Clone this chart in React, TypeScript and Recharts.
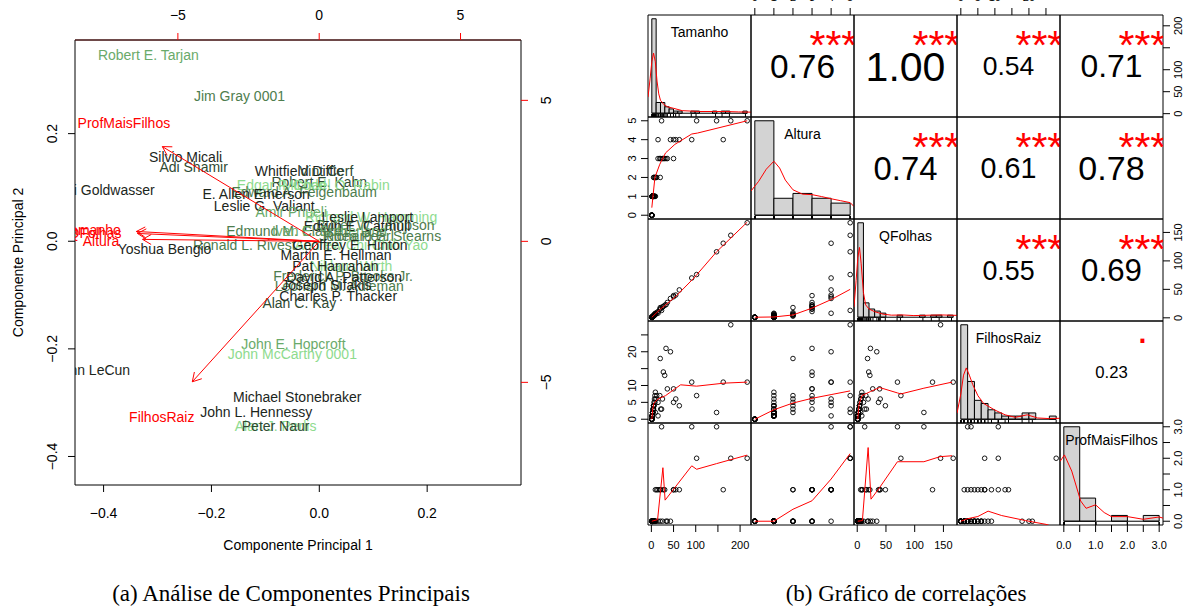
import React from "react";
import {
  ComposedChart, Scatter, XAxis, YAxis, ReferenceArea, ReferenceLine,
} from "recharts";

const FONT = '"Liberation Sans", Arial, Helvetica, sans-serif';
const RED = "#ff0000";

// ---------------- (a) PCA biplot ----------------
const pcNames = [
  "Robert E. Tarjan", "Jim Gray 0001", "Silvio Micali", "Adi Shamir", "Shafi Goldwasser",
  "Whitfield Diffie", "Vint Cerf", "Robert E. Kahn", "Edgar F. Codd", "Michael O. Rabin",
  "Edward A. Feigenbaum", "E. Allen Emerson", "Leslie G. Valiant", "Amir Pnueli", "Richard W. Hamming",
  "Leslie Lamport", "Butler W. Lampson", "Edwin E. Catmull", "Edmund M. Clarke", "Ivan E. Sutherland",
  "Judea Pearl", "Richard E. Stearns", "Ronald L. Rivest", "Andrew Chi-Chih Yao", "Geoffrey E. Hinton",
  "Yoshua Bengio", "Martin E. Hellman", "Niklaus Wirth", "Pat Hanrahan", "Frederick P. Brooks Jr.",
  "David A. Patterson", "Leonard M. Adleman", "Joseph Sifakis", "Charles P. Thacker", "Alan C. Kay",
  "John E. Hopcroft", "John McCarthy 0001", "Yann LeCun", "Michael Stonebraker", "John L. Hennessy",
  "Alan J. Perlis", "Peter Naur",
];
const pc1 = [
  -0.317, -0.148, -0.248, -0.233, -0.407,
  -0.037, 0.013, 0.0, -0.07, 0.031,
  -0.028, -0.117, -0.102, -0.052, 0.096,
  0.089, 0.104, 0.07, -0.065, 0.019,
  0.069, 0.117, -0.139, 0.078, 0.057,
  -0.287, 0.031, 0.059, 0.03, 0.044,
  0.046, 0.037, 0.013, 0.035, -0.037,
  -0.048, -0.05, -0.422, -0.041, -0.117,
  -0.081, -0.081,
];
const pc2 = [
  0.346, 0.27, 0.156, 0.138, 0.095,
  0.13, 0.13, 0.11, 0.104, 0.104,
  0.091, 0.087, 0.065, 0.054, 0.046,
  0.046, 0.03, 0.028, 0.019, 0.019,
  0.009, 0.009, -0.007, -0.006, -0.007,
  -0.015, -0.026, -0.046, -0.046, -0.065,
  -0.067, -0.084, -0.082, -0.102, -0.115,
  -0.19, -0.21, -0.24, -0.29, -0.318,
  -0.344, -0.344,
];
const pcShade = [
  3, 2, 0, 1, 0, 0, 1, 1, 4, 4,
  2, 0, 0, 3, 4, 0, 2, 0, 2, 3,
  2, 2, 2, 4, 0, 0, 0, 4, 0, 2,
  0, 2, 0, 0, 1, 3, 4, 0, 0, 0,
  4, 1,
];
const GREENS = ["#1c261c", "#2f4a33", "#4e7d4e", "#6aaa6a", "#8edb8e"];

const loadNames = ["Tamanho", "QFolhas", "Altura", "ProfMaisFilhos", "FilhosRaiz"];
const loadX = [-6.47, -6.43, -6.25, -5.55, -4.49];
const loadY = [0.35, 0.28, 0.07, 3.36, -4.98];
const loadLabelX = [-8.04, -7.93, -7.72, -6.91, -5.57];
const loadLabelY = [0.39, 0.28, 0.0, 4.2, -6.22];

const pcTicks = [-0.4, -0.2, 0, 0.2];
const loadTicks = [-5, 0, 5];
const PC_DOMAIN: [number, number] = [-0.453, 0.374];
const LOAD_DOMAIN: [number, number] = [-8.64, 7.14];

// ---------------- (b) correlation pairs ----------------
const tamanho = [
  1, 1, 1, 1, 1, 1, 1, 1, 1,
  2, 2, 2, 2, 2, 2, 2, 2, 2, 2, 2, 2,
  3, 3, 3, 3, 3, 3, 3, 3,
  4, 4, 4, 5, 5, 5, 6, 7, 8, 9,
  5, 6, 8, 9, 10, 12, 20,
  15, 19, 21, 25, 27, 30, 33, 36, 50,
  15, 43, 50, 55, 63, 91, 162,
  23, 102, 147, 179, 216,
];
const altura = [
  0, 0, 0, 0, 0, 0, 0, 0, 0,
  1, 1, 1, 1, 1, 1, 1, 1, 1, 1, 1, 1,
  1, 1, 1, 1, 1, 1, 1, 1,
  1, 1, 1, 1, 1, 1, 1, 1, 1, 1,
  2, 2, 2, 2, 2, 2, 2,
  3, 3, 3, 3, 3, 3, 3, 3, 3,
  4, 4, 4, 4, 4, 4, 4,
  5, 5, 5, 5, 5,
];
const qfolhas = [
  1, 1, 1, 1, 1, 1, 1, 1, 1,
  1, 1, 1, 1, 1, 1, 1, 1, 1, 1, 1, 1,
  2, 2, 2, 2, 2, 2, 2, 2,
  3, 3, 3, 4, 4, 4, 5, 6, 7, 8,
  3, 4, 5, 6, 7, 9, 18,
  11, 15, 16, 19, 20, 22, 23, 27, 39,
  8, 34, 37, 40, 49, 70, 131,
  13, 76, 116, 145, 167,
];
const filhosRaiz = [
  0, 0, 0, 0, 0, 0, 0, 0, 0,
  1, 1, 1, 1, 1, 1, 1, 1, 1, 1, 1, 1,
  2, 2, 2, 2, 2, 2, 2, 2,
  3, 3, 3, 4, 4, 4, 5, 6, 7, 8,
  3, 4, 5, 2, 6, 7, 18,
  5, 7, 3, 6, 14, 13, 21, 9, 9,
  1, 20, 5, 6, 4, 11, 11,
  3, 7, 2, 28, 11,
];
const profMaisFilhos = [
  0, 0, 0, 0, 0, 0, 0, 0, 0,
  0, 0, 0, 0, 0, 0, 0, 0, 0, 0, 0, 0,
  0, 0, 0, 0, 0, 0, 0, 0,
  0, 0, 0, 0, 0, 0, 0, 0, 0, 0,
  0, 0, 0, 1, 0, 1, 0,
  0, 1, 1, 0, 1, 1, 0, 0, 1,
  1, 0, 1, 1, 1, 3, 1,
  3, 2, 3, 2, 2,
];

const pairNames = ["Tamanho", "Altura", "QFolhas", "FilhosRaiz", "ProfMaisFilhos"];
const pairValues = [tamanho, altura, qfolhas, filhosRaiz, profMaisFilhos];
const pairDomains: [number, number][] = [[-7.6, 224.6], [-0.2, 5.2], [-5.6, 173.6], [-1.12, 29.12], [-0.12, 3.12]];

const tamanhoTicks = [0, 50, 100, 150, 200];
const alturaTicks = [0, 1, 2, 3, 4, 5];
const qfolhasTicks = [0, 50, 100, 150];
const filhosTicks = [0, 5, 10, 15, 20, 25];
const profTicks = [0, 0.5, 1, 1.5, 2, 2.5, 3];
const pairTicks = [tamanhoTicks, alturaTicks, qfolhasTicks, filhosTicks, profTicks];
const pairFmt = [
  (v: number) => (v === 150 ? "" : String(v)),
  (v: number) => String(v),
  (v: number) => String(v),
  (v: number) => (v === 15 || v === 25 ? "" : String(v)),
  (v: number) => (Number.isInteger(v) ? v.toFixed(1) : ""),
];

// histograms (counts per bin)
const tamanhoBreaks = [0, 10, 20, 30, 40, 50, 60, 70, 80, 90, 100, 110, 120, 130, 140, 150, 160, 170, 180, 190, 200, 210, 220];
const tamanhoCounts = [44, 5, 5, 3, 2, 1, 1, 0, 0, 1, 1, 0, 0, 0, 1, 0, 1, 1, 0, 0, 0, 1];
const alturaBreaks = [0, 1, 2, 3, 4, 5];
const alturaCounts = [39, 7, 9, 7, 5];
const qfolhasBreaks = [0, 10, 20, 30, 40, 50, 60, 70, 80, 90, 100, 110, 120, 130, 140, 150, 160, 170];
const qfolhasCounts = [46, 7, 4, 3, 2, 0, 0, 1, 0, 0, 0, 1, 0, 1, 1, 0, 1];
const filhosBreaks = [0, 2, 4, 6, 8, 10, 12, 14, 16, 18, 20, 22, 24, 26, 28];
const filhosCounts = [30, 12, 6, 5, 3, 2, 1, 1, 1, 2, 2, 0, 0, 1];
const profBreaks = [0, 0.5, 1, 1.5, 2, 2.5, 3];
const profCounts = [49, 12, 0, 3, 0, 3];
const histBreaks = [tamanhoBreaks, alturaBreaks, qfolhasBreaks, filhosBreaks, profBreaks];
const histCounts = [tamanhoCounts, alturaCounts, qfolhasCounts, filhosCounts, profCounts];

// density curves (in count units)
const tamanhoDensX = [-8.8, -4, 0, 4, 8, 12, 16, 20, 28, 36, 50, 70, 90, 110, 140, 170, 200, 228.8];
const tamanhoDensY = [7.5, 16, 24, 28, 24, 15, 9, 6, 4, 3, 2.3, 1.2, 1, 0.8, 0.8, 0.8, 0.6, 0.5];
const alturaDensX = [-0.2, 0.2, 0.6, 1.0, 1.3, 1.6, 2.0, 2.5, 3.0, 3.5, 4.0, 4.5, 5.0, 5.2];
const alturaDensY = [10, 14, 19, 22.3, 19.5, 14.5, 10.5, 8.7, 8.5, 7.7, 6.8, 6, 5.2, 3.6];
const qfolhasDensX = [-6.8, -3, 0, 3, 6, 10, 14, 20, 30, 45, 60, 80, 100, 130, 150, 176.8];
const qfolhasDensY = [5, 18, 29, 34, 26, 12, 6, 4, 2.7, 1.5, 1, 1.1, 0.8, 1, 1.1, 0.9];
const filhosDensX = [-1.12, 0, 0.8, 1.6, 2.5, 3.5, 5, 6.7, 10, 13, 16, 19.5, 22.5, 26, 29.12];
const filhosDensY = [1.9, 8, 14, 16.3, 14, 11, 7.5, 5, 2.9, 1.4, 0.6, 1.4, 0.4, 0.2, 0.3];
const profDensX = [-0.12, 0.02, 0.25, 0.53, 0.7, 1.0, 1.27, 1.5, 2.0, 2.5, 3.0, 3.12];
const profDensY = [31, 34.4, 26, 10.5, 6.7, 8.5, 4.5, 2.4, 2.4, 1, 2.2, 1.6];
const densX = [tamanhoDensX, alturaDensX, qfolhasDensX, filhosDensX, profDensX];
const densY = [tamanhoDensY, alturaDensY, qfolhasDensY, filhosDensY, profDensY];

// smoothers in the lower panels
const smAltTamX = [1, 8, 19, 32, 53, 91, 104, 216];
const smAltTamY = [0.4, 2.0, 2.7, 3.3, 3.75, 4.3, 4.35, 5.0];
const smQfTamX = [1, 20, 53, 96, 147, 216];
const smQfTamY = [1, 15, 36, 70, 116, 168];
const smQfAltX = [0, 1, 2, 3, 4, 5];
const smQfAltY = [1, 1.5, 5, 17, 32, 50];
const smFrTamX = [1, 3, 6, 15, 32, 53, 66, 102, 164, 216];
const smFrTamY = [0, 3, 4.8, 6, 7, 9, 10.2, 9.8, 10.7, 11];
const smFrAltX = [0, 1, 2, 3, 4, 5];
const smFrAltY = [0, 2.8, 4.8, 6.2, 7.3, 8.4];
const smFrQfX = [1, 3, 8, 23, 39, 70, 76, 116, 165];
const smFrQfY = [0, 4.3, 7, 8.2, 9.4, 7.8, 7.5, 9.2, 11];
const smPrTamX = [1, 14, 26, 31, 91, 102, 147, 216];
const smPrTamY = [0, 0.05, 1.7, 0.67, 1.76, 1.65, 1.83, 2.1];
const smPrAltX = [0, 1, 2, 3, 4, 5];
const smPrAltY = [0, 0, 0.38, 0.65, 1.34, 2.15];
const smPrQfX = [1, 9, 19, 24, 39, 70, 116, 144, 165];
const smPrQfY = [0, 0.02, 2.34, 0.7, 1.07, 1.89, 1.89, 2.05, 2.08];
const smPrFrX = [0, 2, 5, 8, 12, 19, 25, 28];
const smPrFrY = [0, 0.08, 0.15, 0.32, 0.18, 0.02, -0.1, -0.2];
const smoothLines: Record<string, [number[], number[]]> = {
  "1-0": [smAltTamX, smAltTamY],
  "2-0": [smQfTamX, smQfTamY],
  "2-1": [smQfAltX, smQfAltY],
  "3-0": [smFrTamX, smFrTamY],
  "3-1": [smFrAltX, smFrAltY],
  "3-2": [smFrQfX, smFrQfY],
  "4-0": [smPrTamX, smPrTamY],
  "4-1": [smPrAltX, smPrAltY],
  "4-2": [smPrQfX, smPrQfY],
  "4-3": [smPrFrX, smPrFrY],
};

const corPairs = [[0, 1], [0, 2], [0, 3], [0, 4], [1, 2], [1, 3], [1, 4], [2, 3], [2, 4], [3, 4]];
const corR = [0.76, 1.0, 0.54, 0.71, 0.74, 0.61, 0.78, 0.55, 0.69, 0.23];
const corStars = ["***", "***", "***", "***", "***", "***", "***", "***", "***", "."];
const COR_BASE = 41;

const CELL_W = 103;
const CELL_H = 102;
const PAIRS_LEFT = 648;
const PAIRS_TOP = 15;
const SIDE = 40;
const PAD = 14; // room so that edge tick labels are not cut by the cell's svg

// ---------------- shapes ----------------
const minus = (s: string) => s.replace("-", "\u2212");

const NameText = (p: any) => (
  <text x={p.cx} y={p.cy} dy="0.36em" textAnchor="middle" fontSize={14} fill={p.payload.color}>
    {p.payload.name}
  </text>
);

const ArrowHead = (p: any) => {
  if (!p.payload.tip) return <g />;
  const a = Math.atan2(-p.payload.y, p.payload.x);
  const L = 10;
  const s = Math.PI / 6;
  const x1 = p.cx - L * Math.cos(a - s);
  const y1 = p.cy - L * Math.sin(a - s);
  const x2 = p.cx - L * Math.cos(a + s);
  const y2 = p.cy - L * Math.sin(a + s);
  return <path d={`M${x1},${y1}L${p.cx},${p.cy}L${x2},${y2}`} fill="none" stroke={RED} strokeWidth={1} />;
};

const BiTick = (props: any) => {
  const { x, y, payload, side, digits } = props;
  const s = minus(Number(payload.value).toFixed(digits));
  if (side === "bottom") return <text x={x} y={y + 24} textAnchor="middle" fontSize={14} fill="#000">{s}</text>;
  if (side === "top") return <text x={x} y={y - 11} textAnchor="middle" fontSize={14} fill="#000">{s}</text>;
  const bx = side === "left" ? x - 9 : x + 21;
  return (
    <text x={bx} y={y} transform={`rotate(-90 ${bx} ${y})`} textAnchor="middle" fontSize={14} fill="#000">{s}</text>
  );
};

const BiTitle = (props: any) => {
  const vb = props.viewBox || {};
  if (props.side === "bottom") {
    return <text x={vb.x + vb.width / 2} y={vb.y + 65} textAnchor="middle" fontSize={14} fill="#000">{props.text}</text>;
  }
  const bx = vb.x - 7;
  const cy = vb.y + vb.height / 2;
  return (
    <text x={bx} y={cy} transform={`rotate(-90 ${bx} ${cy})`} textAnchor="middle" fontSize={14} fill="#000">{props.text}</text>
  );
};

const NoMark = () => <g />;
const OpenCircle = (p: any) => <circle cx={p.cx} cy={p.cy} r={2.3} fill="none" stroke="#000" strokeWidth={0.9} />;
const RugTick = (p: any) => <line x1={p.cx} x2={p.cx} y1={p.cy} y2={p.cy - 3} stroke="#000" strokeWidth={1} />;
const DiagLabel = (p: any) => (
  <text x={p.cx} y={p.cy + 5} textAnchor="middle" fontSize={14} fill="#000">{p.payload.t}</text>
);
const CorText = (p: any) => {
  const { cx, cy, payload } = p;
  const fs = payload.fs;
  const num = payload.kind === "num";
  const dy = num ? 0.358 * fs : payload.t === "." ? 0.05 * fs : 0.57 * fs;
  return (
    <text x={cx} y={cy + dy} textAnchor="middle" fontSize={fs} fill={num ? "#000" : RED}>{payload.t}</text>
  );
};

const PairTick = (props: any) => {
  const { x, y, payload, side, fmt } = props;
  const s = fmt(payload.value);
  if (!s) return <g />;
  if (side === "bottom") return <text x={x} y={y + 15} textAnchor="middle" fontSize={11} fill="#000">{s}</text>;
  if (side === "top") return <text x={x} y={y - 5} textAnchor="middle" fontSize={11} fill="#000">{s}</text>;
  const bx = side === "left" ? x - 3 : x + 10;
  return (
    <text x={bx} y={y} transform={`rotate(-90 ${bx} ${y})`} textAnchor="middle" fontSize={11} fill="#000">{s}</text>
  );
};

// ---------------- components ----------------
function Biplot() {
  const names = pcNames.map((n, k) => ({ x: pc1[k], y: pc2[k], name: n, color: GREENS[pcShade[k]] }));
  const labels = loadNames.map((n, k) => ({ x: loadLabelX[k], y: loadLabelY[k], name: n, color: RED }));
  return (
    <ComposedChart width={600} height={560} margin={{ top: 0, right: 34, bottom: 25, left: 30 }}>
      <XAxis
        xAxisId="pc1" type="number" dataKey="x" domain={PC_DOMAIN} allowDataOverflow
        ticks={pcTicks} interval={0} tickSize={7} height={50} axisLine={false}
        tickLine={{ stroke: "#000" }} tick={<BiTick side="bottom" digits={1} />}
        label={<BiTitle side="bottom" text="Componente Principal 1" />}
      />
      <YAxis
        yAxisId="pc2" type="number" dataKey="y" domain={PC_DOMAIN} allowDataOverflow
        ticks={pcTicks} interval={0} tickSize={7} width={45} axisLine={false}
        tickLine={{ stroke: "#000" }} tick={<BiTick side="left" digits={1} />}
        label={<BiTitle side="left" text="Componente Principal 2" />}
      />
      <XAxis
        xAxisId="load" orientation="top" type="number" dataKey="x" domain={LOAD_DOMAIN} allowDataOverflow
        ticks={loadTicks} interval={0} tickSize={7} height={40} axisLine={false}
        tickLine={{ stroke: RED }} tick={<BiTick side="top" digits={0} />}
      />
      <YAxis
        yAxisId="load" orientation="right" type="number" dataKey="y" domain={LOAD_DOMAIN} allowDataOverflow
        ticks={loadTicks} interval={0} tickSize={7} width={45} axisLine={false}
        tickLine={{ stroke: RED }} tick={<BiTick side="right" digits={0} />}
      />
      <Scatter xAxisId="pc1" yAxisId="pc2" data={names} shape={NameText} isAnimationActive={false} />
      {loadNames.map((n, k) => (
        <Scatter
          key={n}
          xAxisId="load" yAxisId="load"
          data={[{ x: 0, y: 0, tip: false }, { x: loadX[k], y: loadY[k], tip: true }]}
          fill={RED}
          line={{ stroke: RED, strokeWidth: 1 }}
          shape={ArrowHead}
          isAnimationActive={false}
        />
      ))}
      <Scatter xAxisId="load" yAxisId="load" data={labels} shape={NameText} isAnimationActive={false} />
      <ReferenceArea
        xAxisId="pc1" yAxisId="pc2" x1={PC_DOMAIN[0]} x2={PC_DOMAIN[1]} y1={PC_DOMAIN[0]} y2={PC_DOMAIN[1]}
        fill="none" stroke="#000" strokeWidth={1} ifOverflow="visible"
      />
      <ReferenceLine
        xAxisId="pc1" yAxisId="pc2" y={PC_DOMAIN[1]} stroke="#5e1414" strokeWidth={1.2} ifOverflow="visible"
      />
    </ComposedChart>
  );
}

function PairCell({ i, j }: { i: number; j: number }) {
  const hasTop = i === 0 && j % 2 === 1;
  const hasBottom = i === 4 && j % 2 === 0;
  const hasLeft = j === 0 && i % 2 === 1;
  const hasRight = j === 4 && i % 2 === 0;
  const mTop = hasTop ? 0 : PAD;
  const mBottom = hasBottom ? 0 : PAD;
  const w = CELL_W + (hasLeft ? SIDE : 0) + (hasRight ? SIDE : 0) + 2 * PAD;
  const h = CELL_H + (hasTop ? SIDE : PAD) + (hasBottom ? SIDE : PAD);
  const diag = i === j;
  const br = histBreaks[j];
  const b0 = br[0];
  const bn = br[br.length - 1];
  const span = bn - b0;
  const xDom: [number, number] = diag ? [b0 - 0.04 * span, bn + 0.04 * span] : pairDomains[j];
  const maxCount = Math.max(...histCounts[j]);
  const cDom: [number, number] = [-0.04 * maxCount, 1.04 * maxCount];
  const showX = hasTop || hasBottom;
  const showY = hasLeft || hasRight;

  let content: React.ReactNode = null;
  if (i > j) {
    const pts = pairValues[j].map((v, k) => ({ x: v, y: pairValues[i][k] }));
    const [sx, sy] = smoothLines[`${i}-${j}`];
    const sm = sx.map((v, k) => ({ x: v, y: sy[k] }));
    content = [
      <Scatter key="pts" xAxisId="v" yAxisId="v" data={pts} shape={OpenCircle} isAnimationActive={false} />,
      <Scatter key="sm" xAxisId="v" yAxisId="v" data={sm} fill={RED} line={{ stroke: RED, strokeWidth: 1 }} shape={NoMark} isAnimationActive={false} />,
    ];
  } else if (diag) {
    const dens = densX[j].map((v, k) => ({ x: v, y: densY[j][k] }));
    const rug = pairValues[j].map((v) => ({ x: v, y: 0 }));
    content = [
      ...histCounts[j].map((c, k) =>
        c > 0 ? (
          <ReferenceArea
            key={`bar-${k}`} xAxisId="v" yAxisId="c" x1={br[k]} x2={br[k + 1]} y1={0} y2={c}
            fill="#d3d3d3" fillOpacity={1} stroke="#000" strokeWidth={1} ifOverflow="visible"
          />
        ) : null,
      ),
      <ReferenceLine key="base" xAxisId="v" yAxisId="c" segment={[{ x: b0, y: 0 }, { x: bn, y: 0 }]} stroke="#000" strokeWidth={1} ifOverflow="visible" />,
      <Scatter key="dens" xAxisId="v" yAxisId="c" data={dens} fill={RED} line={{ stroke: RED, strokeWidth: 1 }} shape={NoMark} isAnimationActive={false} />,
      <Scatter key="rug" xAxisId="v" yAxisId="u" data={rug} shape={RugTick} isAnimationActive={false} />,
      <Scatter key="lab" xAxisId="u" yAxisId="u" data={[{ x: 0.5, y: 0.833, t: pairNames[j] }]} shape={DiagLabel} isAnimationActive={false} />,
    ];
  } else {
    const k = corPairs.findIndex((p) => p[0] === i && p[1] === j);
    const r = corR[k];
    const txt = [
      { x: 0.5, y: 0.5, t: r.toFixed(2), fs: (COR_BASE * (Math.abs(r) + 0.3)) / 1.3, kind: "num" },
      { x: 0.8, y: 0.8, t: corStars[k], fs: COR_BASE, kind: "sig" },
    ];
    content = <Scatter xAxisId="u" yAxisId="u" data={txt} shape={CorText} isAnimationActive={false} />;
  }

  return (
    <div
      style={{
        position: "absolute",
        left: PAIRS_LEFT + j * CELL_W - (hasLeft ? SIDE : 0) - PAD,
        top: PAIRS_TOP + i * CELL_H - (hasTop ? SIDE : PAD),
      }}
    >
      <ComposedChart width={w} height={h} margin={{ top: mTop, right: PAD, bottom: mBottom, left: PAD }}>
        <XAxis
          xAxisId="v" type="number" dataKey="x" domain={xDom} allowDataOverflow
          hide={!showX} orientation={hasTop ? "top" : "bottom"} height={showX ? SIDE : 0}
          ticks={pairTicks[j]} interval={0} tickSize={7} axisLine={false} tickLine={{ stroke: "#000" }}
          tick={<PairTick side={hasTop ? "top" : "bottom"} fmt={pairFmt[j]} />}
        />
        <YAxis
          yAxisId="v" type="number" dataKey="y" domain={pairDomains[i]} allowDataOverflow
          hide={!showY} orientation={hasRight ? "right" : "left"} width={showY ? SIDE : 0}
          ticks={pairTicks[i]} interval={0} tickSize={7} axisLine={false} tickLine={{ stroke: "#000" }}
          tick={<PairTick side={hasRight ? "right" : "left"} fmt={pairFmt[i]} />}
        />
        <XAxis xAxisId="u" type="number" dataKey="x" domain={[0, 1]} allowDataOverflow hide height={0} />
        <YAxis yAxisId="u" type="number" dataKey="y" domain={[0, 1]} allowDataOverflow hide width={0} />
        <YAxis yAxisId="c" type="number" dataKey="y" domain={cDom} allowDataOverflow hide width={0} />
        {content}
        <ReferenceArea
          xAxisId="u" yAxisId="u" x1={0} x2={1} y1={0} y2={1}
          fill="none" stroke="#000" strokeWidth={1} ifOverflow="visible"
        />
      </ComposedChart>
    </div>
  );
}

const captionStyle: React.CSSProperties = {
  position: "absolute",
  top: 582,
  textAlign: "center",
  fontFamily: '"Liberation Serif", "Times New Roman", serif',
  fontSize: 23,
  lineHeight: "23px",
  whiteSpace: "nowrap",
  color: "#000",
};

export default function App() {
  const cells: React.ReactNode[] = [];
  for (let i = 0; i < 5; i++) {
    for (let j = 0; j < 5; j++) cells.push(<PairCell key={`${i}-${j}`} i={i} j={j} />);
  }
  return (
    <div
      style={{
        position: "absolute", left: 0, top: 0, width: 1189, height: 615,
        overflow: "hidden", background: "#fff", fontFamily: FONT,
      }}
    >
      <div style={{ position: "absolute", left: 0, top: 0 }}>
        <Biplot />
      </div>
      {cells}
      <div style={{ ...captionStyle, left: 0, width: 582 }}>(a) Análise de Componentes Principais</div>
      <div style={{ ...captionStyle, left: 706, width: 400 }}>(b) Gráfico de correlações</div>
    </div>
  );
}
